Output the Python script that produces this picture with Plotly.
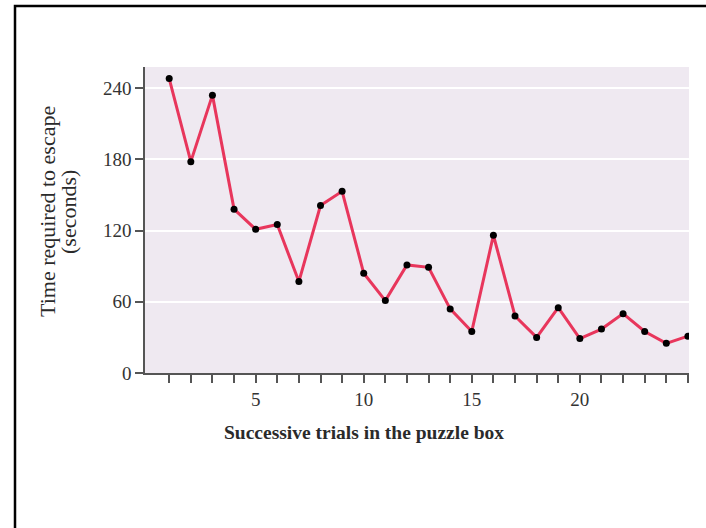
import plotly.graph_objects as go

trials = list(range(1, 26))
times = [248, 178, 234, 138, 121, 125, 77, 141, 153, 84, 61, 91, 89, 54, 35,
         116, 48, 30, 55, 29, 37, 50, 35, 25, 31]
y_ticks = [0, 60, 120, 180, 240]
x_tick_vals = list(range(1, 26))
x_labelled = [5, 10, 15, 20]
x_tick_text = [str(v) if v in x_labelled else "" for v in x_tick_vals]
x_title = "Successive trials in the puzzle box"
y_title_1 = "Time required to escape"
y_title_2 = "(seconds)"

FONT = "Liberation Serif"
W, H = 706, 528
L, R, T, B = 145, 17, 67, 155
pw, ph = W - L - R, H - T - B

def px(x):
    return (x - L) / pw

def py(y):
    return (H - B - y) / ph

fig = go.Figure()
fig.add_trace(go.Scatter(
    x=trials, y=times, mode="lines+markers",
    line=dict(color="#e8365c", width=3),
    marker=dict(color="black", size=7),
    hoverinfo="x+y", showlegend=False,
))

fig.update_layout(
    width=W, height=H,
    margin=dict(l=L, r=R, t=T, b=B, autoexpand=False),
    paper_bgcolor="white",
    plot_bgcolor="#efe9f1",
    font=dict(family=FONT, color="#333333", size=16),
    xaxis=dict(
        range=[-0.12, 25.05], tickmode="array", tickvals=x_tick_vals,
        ticktext=x_tick_text, ticks="outside", ticklen=8, tickwidth=1.5,
        tickcolor="#555555", showline=True, linecolor="#555555", linewidth=1.5,
        showgrid=False, zeroline=False, tickfont=dict(size=19, family=FONT),
    ),
    yaxis=dict(
        range=[0, 257.7], tickmode="array", tickvals=y_ticks,
        ticks="outside", ticklen=8, tickwidth=1.5, tickcolor="#555555",
        showline=True, linecolor="#555555", linewidth=1.5,
        showgrid=True, gridcolor="white", gridwidth=2, zeroline=False,
        tickfont=dict(size=19, family=FONT),
    ),
    annotations=[
        dict(text="<b>" + x_title + "</b>", xref="paper", yref="paper",
             x=px(364), y=py(432), xanchor="center", yanchor="middle",
             showarrow=False, font=dict(size=19.5, family=FONT, color="#2a2a2a")),
        dict(text=y_title_1, xref="paper", yref="paper",
             x=px(47), y=py(212), xanchor="center", yanchor="middle", textangle=-90,
             showarrow=False, font=dict(size=22, family=FONT, color="#2a2a2a")),
        dict(text=y_title_2, xref="paper", yref="paper",
             x=px(68), y=py(212), xanchor="center", yanchor="middle", textangle=-90,
             showarrow=False, font=dict(size=22, family=FONT, color="#2a2a2a")),
    ],
    shapes=[
        dict(type="rect", xref="paper", yref="paper",
             x0=px(15), x1=px(760), y0=py(580), y1=py(6),
             line=dict(color="black", width=2.5), fillcolor="rgba(0,0,0,0)", layer="below"),
    ],
)

fig.write_html("out.html", config={"displayModeBar": False},
               post_script="document.body.style.margin='0';")
